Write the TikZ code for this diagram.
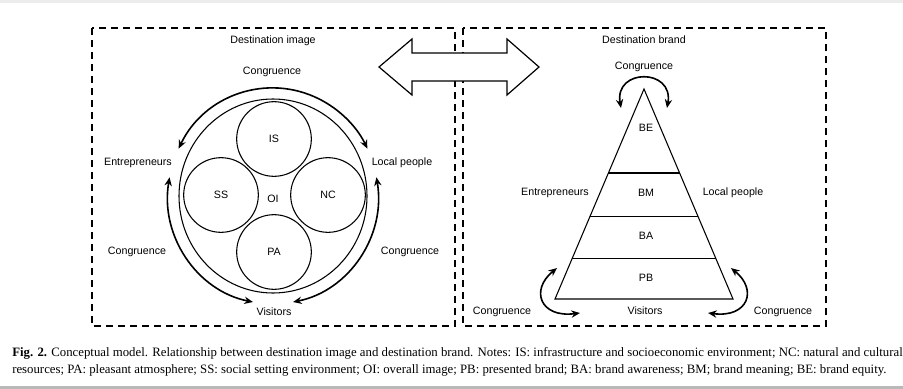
\documentclass[tikz,border=0pt]{standalone}
\usepackage{fontspec}
\setmainfont{Liberation Serif}
\newfontfamily\labfont{Liberation Sans}
\usetikzlibrary{arrows.meta,calc}
\begin{document}
\begin{tikzpicture}[x=0.75pt,y=-0.75pt,
  lab/.style={font=\labfont\fontsize{8}{9}\selectfont, inner sep=0pt},
  dbox/.style={draw, line width=1.3pt, dash pattern=on 5.5pt off 3.5pt},
  ring/.style={draw, line width=0.8pt},
  part/.style={draw, circle, line width=0.8pt, minimum size=56pt, inner sep=0pt, font=\labfont\fontsize{8}{9}\selectfont},
  carrow/.style={line width=1.2pt, {Stealth[length=6.5pt,width=5.5pt]}-{Stealth[length=6.5pt,width=5.5pt]}},
  captext/.style={font=\fontsize{9.6}{11}\selectfont, inner sep=0pt, anchor=base west},
]
\useasboundingbox (0,0) rectangle (903,389);
\fill[gray!15] (0,0) rectangle (903,3);
\fill[gray!55] (0,386) rectangle (903,389);

% dashed boxes
\draw[dbox] (92,28) rectangle (455,326);
\draw[dbox] (463,28) rectangle (826,326);

% big double arrow
\draw[line width=0.9pt, fill=white] (379,67) -- (412,39) -- (412,53) -- (507,53) -- (507,39) -- (539,67)
  -- (507,95) -- (507,81) -- (412,81) -- (412,95) -- cycle;

% ---------- Destination image ----------
\node[lab] (dimg) at (273,41) {Destination image};
\node[lab] (ctop) at (272,72) {Congruence};
\node[lab] (ent1) at (138,163) {Entrepreneurs};
\node[lab] (loc1) at (402,163) {Local people};
\node[lab] (cl1) at (137,252) {Congruence};
\node[lab] (cr1) at (410,252) {Congruence};
\node[lab] (vis1) at (274,312) {Visitors};

\coordinate (O) at (273,196);
\draw[ring] (O) ellipse [x radius=94, y radius=97];
\node[part] (IS) at (274,139) {IS};
\node[part] (SS) at (221,195) {SS};
\node[part] (NC) at (328,195) {NC};
\node[part] (PA) at (274,252) {PA};
\node[lab] (OI) at (273,199) {OI};

\draw[carrow] ($(O)+(206:105 and 108)$) arc[start angle=206, end angle=334, x radius=105, y radius=108];
\draw[carrow] ($(O)+(190:105 and 108)$) arc[start angle=190, end angle=101, x radius=105, y radius=108];
\draw[carrow] ($(O)+(-10:105 and 108)$) arc[start angle=-10, end angle=79, x radius=105, y radius=108];

% ---------- Destination brand ----------
\node[lab] (dbr) at (644,40) {Destination brand};
\node[lab] (ctop2) at (644,67) {Congruence};
\node[lab] (ent2) at (555,193) {Entrepreneurs};
\node[lab] (loc2) at (733,193) {Local people};
\node[lab] (vis2) at (645,311) {Visitors};
\node[lab] (cl2) at (502,312) {Congruence};
\node[lab] (cr2) at (783,312) {Congruence};

\coordinate (T) at (644,89);
\coordinate (BL) at (555,299);
\coordinate (BR) at (733,299);
\draw[line width=0.8pt] (T) -- (BL) -- (BR) -- cycle;
\draw[line width=0.8pt] ($(T)!0.4!(BL)$) -- ($(T)!0.4!(BR)$);
\draw[line width=0.8pt] ($(T)!0.605!(BL)$) -- ($(T)!0.605!(BR)$);
\draw[line width=0.8pt] ($(T)!0.805!(BL)$) -- ($(T)!0.805!(BR)$);
\node[lab] (BE) at (646,128) {BE};
\node[lab] (BM) at (646,193) {BM};
\node[lab] (BA) at (646,236) {BA};
\node[lab] (PB) at (646,278) {PB};

\coordinate (ta) at (621,108);
\coordinate (tb) at (667,108);
\draw[carrow] (ta) .. controls (614,68) and (674,68) .. (tb);
\coordinate (la) at (557,268);
\coordinate (lb) at (580,313);
\draw[carrow] (la) .. controls (530,290) and (540,318) .. (lb);
\coordinate (ra) at (731,268);
\coordinate (rb) at (708,313);
\draw[carrow] (ra) .. controls (758,290) and (748,318) .. (rb);

% caption
\node[captext] (cap1) at (12,356) {\textbf{Fig. 2.} Conceptual model. Relationship between destination image and destination brand. Notes: IS: infrastructure and socioeconomic environment; NC: natural and cultural};
\node[captext] (cap2) at (12,373) {resources; PA: pleasant atmosphere; SS: social setting environment; OI: overall image; PB: presented brand; BA: brand awareness; BM; brand meaning; BE: brand equity.};
\end{tikzpicture}
\end{document}
